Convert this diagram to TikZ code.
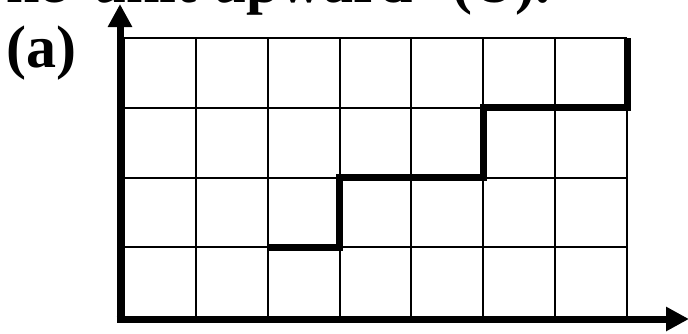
\documentclass[tikz,border=0pt]{standalone}
\usepackage{fontspec}
\setmainfont{Liberation Serif}
\usetikzlibrary{arrows.meta}
\tikzset{
  gridline/.style={line width=2pt, black},
  axisline/.style={line width=7pt, black, -{Triangle[length=23pt,width=23pt]}},
  stairline/.style={line width=7pt, black, line join=miter},
  bigtext/.style={font=\bfseries\fontsize{60}{72}\selectfont, inner sep=0pt, anchor=base west},
}
\begin{document}
\begin{tikzpicture}[x=1pt,y=-1pt]
\path[use as bounding box, clip] (0,0) rectangle (688,333);
\fill[white] (0,0) rectangle (688,333);
% grid: left 124, column 71.86, top 38, row 69.75
\foreach \i in {0,...,7} {
  \draw[gridline] ({124+71.86*\i},38) -- ({124+71.86*\i},317);
}
\foreach \j in {0,...,4} {
  \draw[gridline] (124,{38+69.75*\j}) -- (627,{38+69.75*\j});
}
% staircase
\coordinate (s0) at (268,247.25);
\coordinate (s1) at (339.6,247.25);
\coordinate (s2) at (339.6,177.5);
\coordinate (s3) at (483.3,177.5);
\coordinate (s4) at (483.3,107.75);
\coordinate (s5) at (627,107.75);
\coordinate (s6) at (627,38);
\draw[stairline] (s0) -- (s1) -- (s2) -- (s3) -- (s4) -- (s5) -- (s6);
% axes
\coordinate (yb) at (120,319);
\coordinate (yt) at (120,4);
\coordinate (xl) at (116.5,319);
\coordinate (xr) at (689,319);
\draw[axisline] (yb) -- (yt);
\draw[axisline] (xl) -- (xr);
% texts
\node[bigtext] (lbl) at (6,67) {(a)};
\node[bigtext] (w1) at (6,2) {he};
\node[bigtext] (w2) at (93,2) {unit};
\node[bigtext] (w3) at (213,2) {upward};
\node[bigtext] (w4) at (452,2) {(U).};
\end{tikzpicture}
\end{document}
